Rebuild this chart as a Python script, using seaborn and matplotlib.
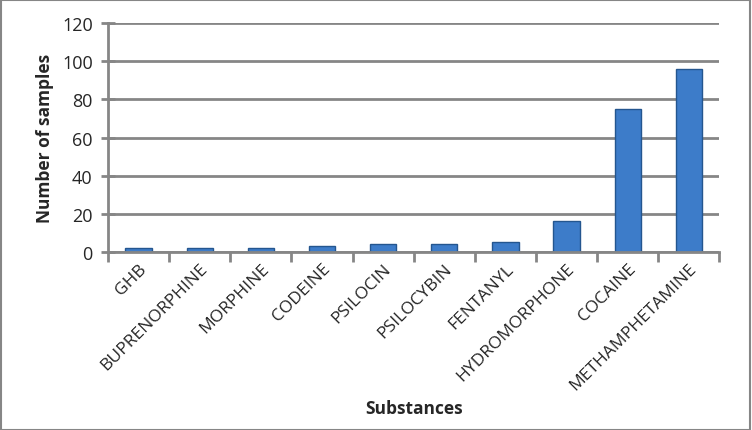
import pandas as pd
import matplotlib.pyplot as plt
import seaborn as sns

# Datos
sustancias = ['GHB', 'BUPRENORPHINE', 'MORPHINE', 'CODEINE', 'PSILOCIN',
              'PSILOCYBIN', 'FENTANYL', 'HYDROMORPHONE', 'COCAINE', 'METHAMPHETAMINE']
muestras = [2, 2, 2, 3, 4, 4, 5, 16, 75, 96]
y_ticks = [0, 20, 40, 60, 80, 100, 120]

df = pd.DataFrame({'Substances': sustancias, 'Number of samples': muestras})

sns.set_theme(style="white")
plt.rcParams['font.family'] = ['Open Sans', 'DejaVu Sans']

fig = plt.figure(figsize=(7.52, 4.31), dpi=100)
ax = fig.add_axes([0.1436, 0.413, 0.813, 0.531])

sns.barplot(data=df, x='Substances', y='Number of samples', color='#3d7cc9',
            width=0.43, edgecolor='#24568f', linewidth=1.0, saturation=1, ax=ax)

ax.set_ylim(0, 120)
ax.set_yticks(y_ticks)
ax.set_xlim(-0.5, len(sustancias) - 0.5)
ax.yaxis.grid(True, color='#868686', linewidth=2)
ax.set_axisbelow(True)

for s in ['top', 'right']:
    ax.spines[s].set_visible(False)
for s in ['left', 'bottom']:
    ax.spines[s].set_color('#868686')
    ax.spines[s].set_linewidth(2)

# ticks del eje x en los limites de categoria
ax.set_xticks([i - 0.5 for i in range(len(sustancias) + 1)], minor=True)
ax.tick_params(axis='x', which='minor', direction='out', length=7, width=2,
               color='#868686', bottom=True)
ax.tick_params(axis='x', which='major', length=0, labelsize=12.5, pad=6)
ax.tick_params(axis='y', direction='inout', length=10, width=2, color='#868686',
               labelsize=13, left=True, pad=6)
ax.set_xticks(range(len(sustancias)))
ax.set_xticklabels(sustancias, rotation=45, ha='right', rotation_mode='anchor')

ax.set_xlabel('Substances', fontsize=12.5, fontweight='bold', labelpad=4)
ax.set_ylabel('Number of samples', fontsize=12.5, fontweight='bold', labelpad=6)

fig.patches.append(plt.Rectangle((0.001, 0.001), 0.997, 0.997, transform=fig.transFigure,
                                 fill=False, edgecolor='#868686', linewidth=1.5))

fig.savefig('out.png', dpi=100)
